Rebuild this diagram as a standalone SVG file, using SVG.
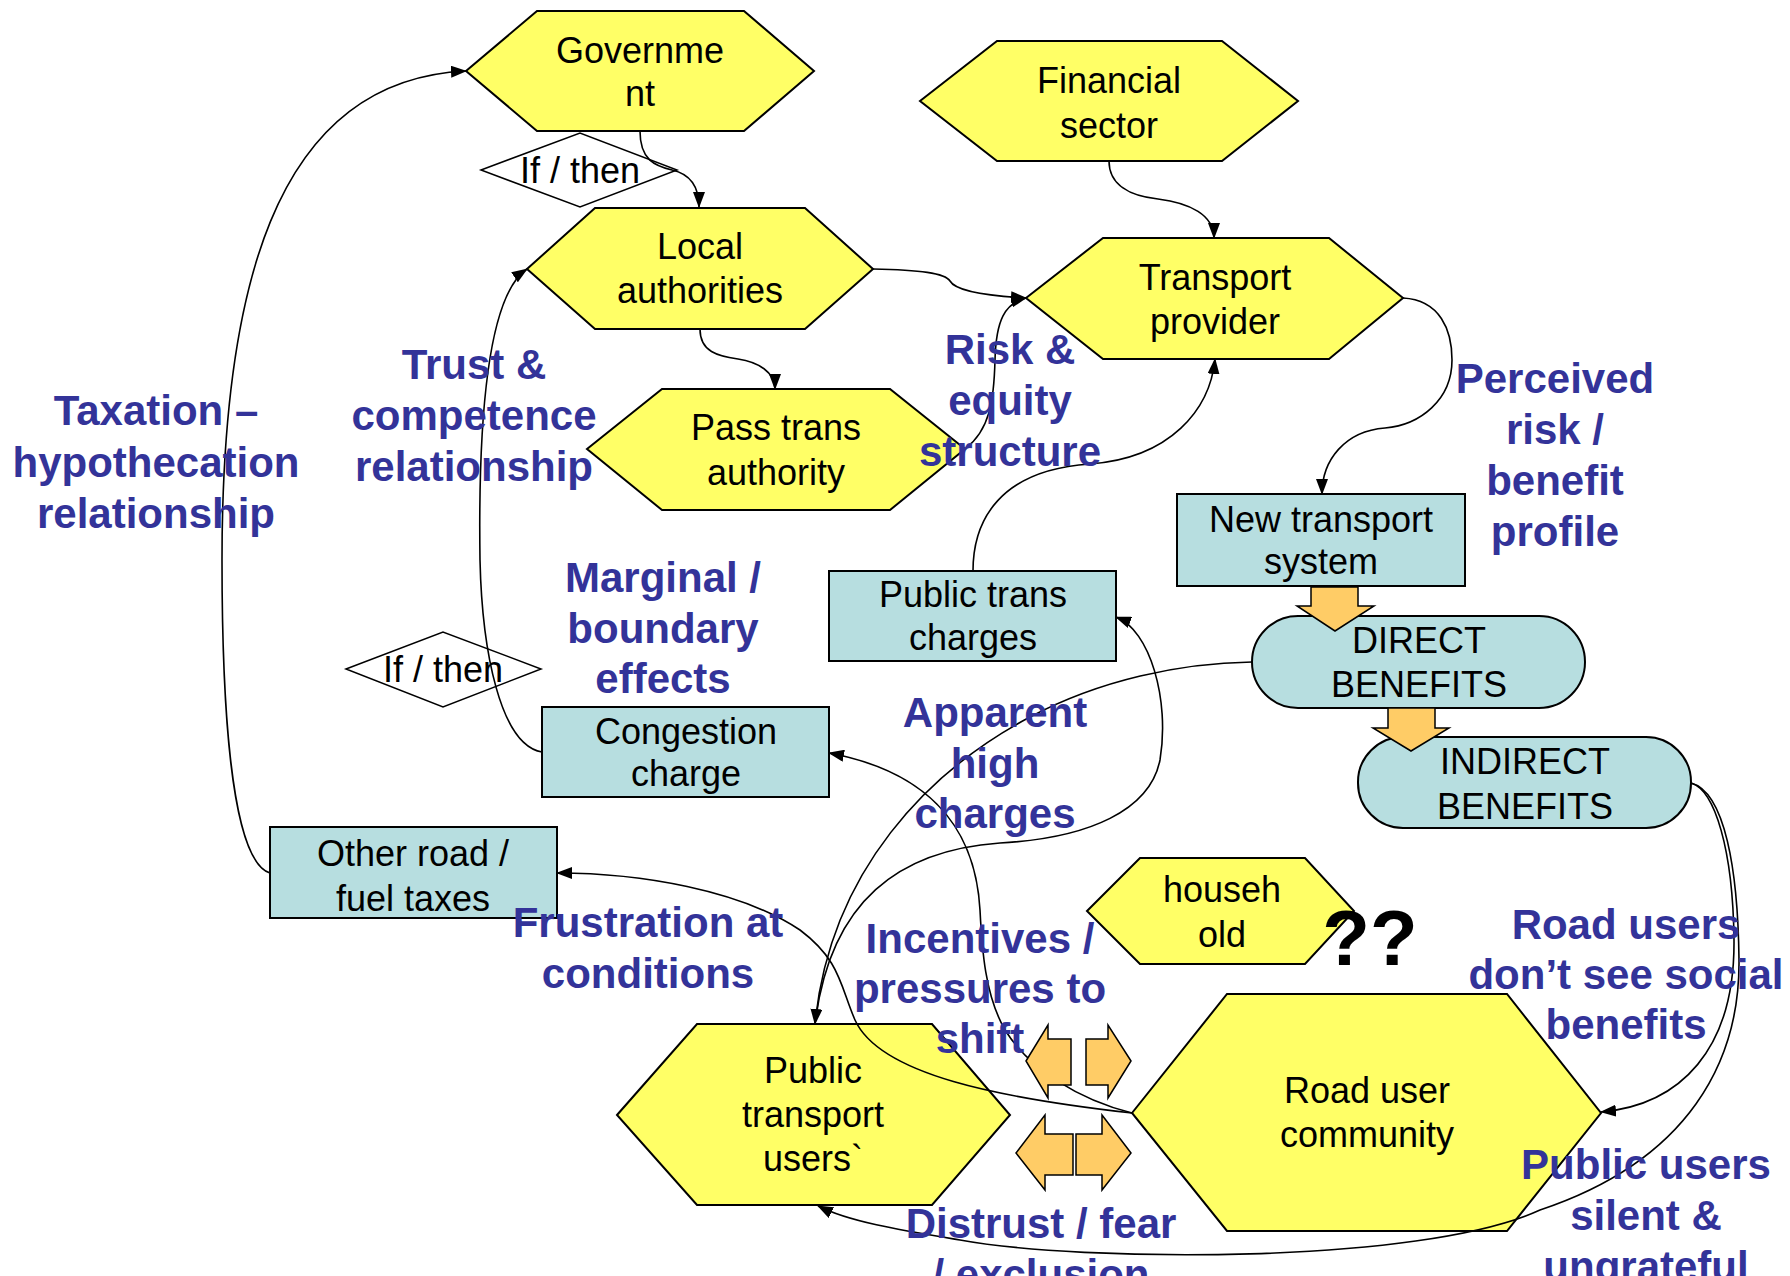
<svg xmlns="http://www.w3.org/2000/svg" width="1790" height="1276" viewBox="0 0 1790 1276">
<style>
.hex{fill:#FFFF66;stroke:#000;stroke-width:2}
.box{fill:#B7DEE0;stroke:#000;stroke-width:2}
.dia{fill:#fff;stroke:#000;stroke-width:1.5}
.oa{fill:#FFCC66;stroke:#000;stroke-width:1.5}
.t{font-family:"Liberation Sans",Arial,sans-serif;font-size:36px;fill:#000;text-anchor:middle}
.lb{font-family:"Liberation Sans",Arial,sans-serif;font-size:42px;font-weight:bold;fill:#333399;text-anchor:middle}
.c{fill:none;stroke:#000;stroke-width:1.6;marker-end:url(#ah)}
.cn{fill:none;stroke:#000;stroke-width:1.6}
</style>
<defs>
<marker id="ah" markerUnits="userSpaceOnUse" markerWidth="16" markerHeight="12" refX="15" refY="6" orient="auto">
<path d="M0,0 L16,6 L0,12 z" fill="#000"/>
</marker>
</defs>
<rect width="1790" height="1276" fill="#fff"/>

<g id="government">
<polygon class="hex" points="466,71 537,11 744,11 814,71 744,131 537,131"/>
<text class="t" x="640" y="63">Governme</text>
<text class="t" x="640" y="106">nt</text>
</g>
<g id="ifthen1">
<polygon class="dia" points="481,170 580,133 677,170 580,207"/>
<text class="t" x="580" y="183">If / then</text>
</g>
<g id="local-authorities">
<polygon class="hex" points="527,269 595,208 805,208 873,269 805,329 595,329"/>
<text class="t" x="700" y="259">Local</text>
<text class="t" x="700" y="303">authorities</text>
</g>
<g id="pass-trans-authority">
<polygon class="hex" points="587,449 662,389 890,389 965,449 890,510 662,510"/>
<text class="t" x="776" y="440">Pass trans</text>
<text class="t" x="776" y="485">authority</text>
</g>
<g id="financial-sector">
<polygon class="hex" points="920,101 997,41 1222,41 1298,101 1222,161 997,161"/>
<text class="t" x="1109" y="93">Financial</text>
<text class="t" x="1109" y="138">sector</text>
</g>
<g id="transport-provider">
<polygon class="hex" points="1026,298 1103,238 1329,238 1403,298 1329,359 1103,359"/>
<text class="t" x="1215" y="290">Transport</text>
<text class="t" x="1215" y="334">provider</text>
</g>
<g id="new-transport-system">
<rect class="box" x="1177" y="494" width="288" height="92"/>
<text class="t" x="1321" y="532">New transport</text>
<text class="t" x="1321" y="574">system</text>
</g>
<g id="public-trans-charges">
<rect class="box" x="829" y="571" width="287" height="90"/>
<text class="t" x="973" y="607">Public trans</text>
<text class="t" x="973" y="650">charges</text>
</g>
<g id="direct-benefits">
<rect class="box" x="1252" y="616" width="333" height="92" rx="46" ry="46"/>
<text class="t" x="1419" y="653">DIRECT</text>
<text class="t" x="1419" y="697">BENEFITS</text>
</g>
<g id="indirect-benefits">
<rect class="box" x="1358" y="737" width="333" height="91" rx="45" ry="45"/>
<text class="t" x="1525" y="774">INDIRECT</text>
<text class="t" x="1525" y="819">BENEFITS</text>
</g>
<g id="ifthen2">
<polygon class="dia" points="346,669 443,632 541,669 443,707"/>
<text class="t" x="443" y="682">If / then</text>
</g>
<g id="congestion-charge">
<rect class="box" x="542" y="707" width="287" height="90"/>
<text class="t" x="686" y="744">Congestion</text>
<text class="t" x="686" y="786">charge</text>
</g>
<g id="other-road-fuel-taxes">
<rect class="box" x="270" y="827" width="287" height="91"/>
<text class="t" x="413" y="866">Other road /</text>
<text class="t" x="413" y="911">fuel taxes</text>
</g>
<g id="household">
<polygon class="hex" points="1087,911 1140,858 1305,858 1354,911 1305,964 1140,964"/>
<text class="t" x="1222" y="902">househ</text>
<text class="t" x="1222" y="947">old</text>
</g>
<g id="road-user-community">
<polygon class="hex" points="1132,1113 1227,994 1507,994 1601,1113 1507,1231 1227,1231"/>
<text class="t" x="1367" y="1103">Road user</text>
<text class="t" x="1367" y="1147">community</text>
</g>
<g id="public-transport-users">
<polygon class="hex" points="617,1115 697,1024 932,1024 1010,1115 932,1205 697,1205"/>
<text class="t" x="813" y="1083">Public</text>
<text class="t" x="813" y="1127">transport</text>
<text class="t" x="813" y="1171">users`</text>
</g>

<g id="connectors">
<path class="c" d="M640,131 C640,160 655,166 672,170 C690,174 699,186 699,207"/>
<path class="c" d="M700,329 C700,352 718,356 738,359 C758,362 775,372 775,389"/>
<path class="c" d="M873,269 C920,270 945,273 950,281 C956,292 990,296 1026,298"/>
<path class="c" d="M965,449 C990,430 994,400 995,360 C996,320 1005,303 1026,298"/>
<path class="c" d="M1109,161 C1109,185 1130,196 1158,199 C1190,203 1214,215 1214,238"/>
<path class="c" d="M973,571 C973,520 1000,470 1090,464 C1170,458 1210,410 1215,359"/>
<path class="c" d="M1403,298 C1440,300 1452,330 1452,360 C1452,400 1420,425 1385,428 C1345,431 1322,460 1322,494"/>
<path class="c" d="M1252,662 C1180,663 1100,680 1030,717 C930,770 830,870 815,1024"/>
<path class="c" d="M815,1024 C830,900 900,850 1000,843 C1090,838 1150,810 1160,760 C1170,700 1150,630 1116,617"/>
<path class="c" d="M1132,1113 C1080,1100 1030,1070 1005,1030 C985,995 982,950 980,910 C975,820 920,770 829,753"/>
<path class="c" d="M1132,1113 C1000,1098 880,1075 855,1020 C840,985 840,960 800,930 C740,890 640,873 557,873"/>
<path class="c" d="M1691,783 C1715,790 1733,850 1734,940 C1735,1050 1680,1105 1601,1112"/>
<path class="c" d="M1691,783 C1725,792 1738,870 1739,960 C1740,1060 1690,1160 1540,1210 C1420,1265 1080,1262 960,1240 C900,1230 850,1222 818,1206"/>
<path class="c" d="M270,873 C228,860 222,680 222,560 C222,300 270,80 466,71"/>
<path class="c" d="M542,752 C500,745 482,650 480,560 C478,420 488,295 527,269"/>
</g>

<g id="block-arrows">
<polygon class="oa" points="1311,587 1358,587 1358,606 1374,606 1335,631 1297,606 1311,606"/>
<polygon class="oa" points="1388,708 1435,708 1435,728 1449,728 1411,751 1373,728 1388,728"/>
<polygon class="oa" points="1026,1061 1048,1025 1048,1039 1071,1039 1071,1085 1048,1085 1048,1098"/>
<polygon class="oa" points="1131,1061 1108,1025 1108,1039 1086,1039 1086,1085 1108,1085 1108,1098"/>
<polygon class="oa" points="1016,1153 1045,1115 1045,1134 1073,1134 1073,1175 1045,1175 1045,1190"/>
<polygon class="oa" points="1131,1153 1102,1115 1102,1134 1076,1134 1076,1175 1102,1175 1102,1190"/>
</g>

<g id="labels">
<text class="lb" x="156" y="425">Taxation –</text>
<text class="lb" x="156" y="477">hypothecation</text>
<text class="lb" x="156" y="528">relationship</text>
<text class="lb" x="474" y="379">Trust &amp;</text>
<text class="lb" x="474" y="430">competence</text>
<text class="lb" x="474" y="481">relationship</text>
<text class="lb" x="1010" y="364">Risk &amp;</text>
<text class="lb" x="1010" y="415">equity</text>
<text class="lb" x="1010" y="466">structure</text>
<text class="lb" x="1555" y="393">Perceived</text>
<text class="lb" x="1555" y="444">risk /</text>
<text class="lb" x="1555" y="495">benefit</text>
<text class="lb" x="1555" y="546">profile</text>
<text class="lb" x="663" y="592">Marginal /</text>
<text class="lb" x="663" y="643">boundary</text>
<text class="lb" x="663" y="693">effects</text>
<text class="lb" x="995" y="727">Apparent</text>
<text class="lb" x="995" y="778">high</text>
<text class="lb" x="995" y="828">charges</text>
<text class="lb" x="648" y="937">Frustration at</text>
<text class="lb" x="648" y="988">conditions</text>
<text class="lb" x="980" y="953">Incentives /</text>
<text class="lb" x="980" y="1003">pressures to</text>
<text class="lb" x="980" y="1053">shift</text>
<text class="lb" x="1626" y="939">Road users</text>
<text class="lb" x="1626" y="989">don’t see social</text>
<text class="lb" x="1626" y="1039">benefits</text>
<text class="lb" x="1646" y="1179">Public users</text>
<text class="lb" x="1646" y="1230">silent &amp;</text>
<text class="lb" x="1646" y="1281">ungrateful</text>
<text class="lb" x="1041" y="1238">Distrust / fear</text>
<text class="lb" x="1041" y="1289">/ exclusion</text>
<text x="1370" y="965" font-family="'Liberation Sans',Arial,sans-serif" font-size="78" font-weight="bold" text-anchor="middle" fill="#000">??</text>
</g>
</svg>
